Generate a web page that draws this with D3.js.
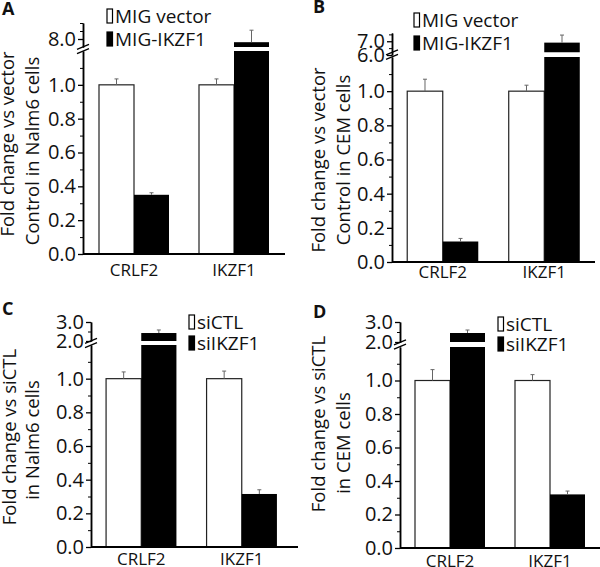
<!DOCTYPE html>
<html>
<head>
<meta charset="utf-8">
<script src="https://cdn.jsdelivr.net/npm/d3@7"></script>
<style>
  body { margin: 0; background: #fff; }
  svg { display: block; }
  text { font-family: "Open Sans", sans-serif; fill: #111; }
</style>
</head>
<body>
<svg id="chart"></svg>
<script>
// data
const categories = ["CRLF2", "IKZF1"];
const legendMIG = ["MIG vector", "MIG-IKZF1"];
const legendSi = ["siCTL", "siIKZF1"];

const vectorNalm6 = [1.0, 1.0];
const vectorNalm6Err = [0.035, 0.035];
const ikzf1Nalm6 = [0.35, 7.8];
const ikzf1Nalm6Err = [0.012, 0.75];

const vectorCEM = [1.0, 1.0];
const vectorCEMErr = [0.07, 0.035];
const ikzf1CEM = [0.12, 6.9];
const ikzf1CEMErr = [0.018, 0.55];

const siCTLNalm6 = [1.0, 1.0];
const siCTLNalm6Err = [0.04, 0.045];
const siIKZF1Nalm6 = [2.42, 0.315];
const siIKZF1Nalm6Err = [0.16, 0.025];

const siCTLCEM = [1.0, 1.0];
const siCTLCEMErr = [0.065, 0.035];
const siIKZF1CEM = [2.45, 0.32];
const siIKZF1CEMErr = [0.15, 0.02];

const lowerMajor = [0, 0.2, 0.4, 0.6, 0.8, 1.0];
const lowerMinor = [0.1, 0.3, 0.5, 0.7, 0.9, 1.1];

// panel layout
const panels = [
  {letter: "A", lx: 2, ly: 15,
   series: [vectorNalm6, ikzf1Nalm6], errs: [vectorNalm6Err, ikzf1Nalm6Err],
   legend: legendMIG, title: ["Fold change vs vector", "Control in Nalm6 cells"],
   upDomain: [7.5, 9.0], upBar: 7.5, upMajor: [8.0], upMinor: [8.5, 9.0],
   ax: 83, band: [84, 284], xEnd: 285, y0: 254, yLowTop: 51, yUpBot: 47, yTop: 23,
   catOff: 22, lgX: 107, lgY: [9, 32], t1: [14, 144], t2: [39, 151]},
  {letter: "B", lx: 313, ly: 13,
   series: [vectorCEM, ikzf1CEM], errs: [vectorCEMErr, ikzf1CEMErr],
   legend: legendMIG, title: ["Fold change vs vector", "Control in CEM cells"],
   upDomain: [6.0, 7.6], upBar: 6.2, upMajor: [6.0, 7.0], upMinor: [6.5, 7.5],
   ax: 392, band: [392, 595], xEnd: 595, y0: 262, yLowTop: 57, yUpBot: 55, yTop: 33,
   catOff: 16, lgX: 414, lgY: [13, 36], t1: [325, 160], t2: [350, 160]},
  {letter: "C", lx: 2, ly: 315,
   series: [siCTLNalm6, siIKZF1Nalm6], errs: [siCTLNalm6Err, siIKZF1Nalm6Err],
   legend: legendSi, title: ["Fold change vs siCTL", "in Nalm6 cells"],
   upDomain: [2.0, 3.0], upBar: 2.0, upMajor: [2.0, 3.0], upMinor: [2.5],
   ax: 91, band: [91, 292], xEnd: 298, y0: 547, yLowTop: 345, yUpBot: 341, yTop: 322,
   catOff: 18, lgX: 189, lgY: [315, 336], t1: [16, 437], t2: [39, 440]},
  {letter: "D", lx: 313, ly: 318,
   series: [siCTLCEM, siIKZF1CEM], errs: [siCTLCEMErr, siIKZF1CEMErr],
   legend: legendSi, title: ["Fold change vs siCTL", "in CEM cells"],
   upDomain: [2.0, 3.0], upBar: 2.0, upMajor: [2.0, 3.0], upMinor: [2.5],
   ax: 400, band: [400, 600], xEnd: 600, y0: 548, yLowTop: 347, yUpBot: 342, yTop: 322,
   catOff: 19, lgX: 498, lgY: [317, 337], t1: [325, 424], t2: [350, 443]}
];

const width = 600, height = 567;
const svg = d3.select("#chart").attr("width", width).attr("height", height);

function drawAxis(g, p, scale, major, minor) {
  g.append("g")
    .attr("transform", `translate(${p.ax},0)`)
    .call(d3.axisLeft(scale).tickValues(minor).tickSize(3).tickSizeOuter(0).tickFormat(""))
    .call(a => a.select(".domain").attr("stroke-width", 1.5));
  g.append("g")
    .attr("transform", `translate(${p.ax},0)`)
    .call(d3.axisLeft(scale).tickValues(major).tickSize(5).tickSizeOuter(0).tickPadding(2).tickFormat(d3.format(".1f")))
    .call(a => a.select(".domain").attr("stroke-width", 1.5))
    .call(a => a.selectAll("line").attr("stroke-width", 1.3))
    .call(a => a.selectAll("text").attr("font-size", 20).attr("font-family", "Open Sans").attr("fill", "#111"));
}

function drawPanel(p) {
  const g = svg.append("g");

  const x0 = d3.scaleBand().domain(categories).range(p.band).paddingInner(0.3).paddingOuter(0.15);
  const x1 = d3.scaleBand().domain([0, 1]).range([0, x0.bandwidth()]);
  const yLow = d3.scaleLinear().domain([0, 1.2]).range([p.y0, p.yLowTop]);
  const yUp = d3.scaleLinear().domain(p.upDomain).range([p.yUpBot, p.yTop]);

  // bars
  p.series.forEach((vals, s) => {
    vals.forEach((v, i) => {
      const x = x0(categories[i]) + x1(s);
      const w = x1.bandwidth();
      const fill = s === 0 ? "#fff" : "#000";
      const yl = yLow(Math.min(v, 1.2));
      g.append("rect")
        .attr("x", x).attr("y", yl).attr("width", w).attr("height", p.y0 - yl)
        .attr("fill", fill).attr("stroke", "#222").attr("stroke-width", s === 0 ? 1.2 : 0);
      let top = yl, errTop;
      if (v > p.upBar) {
        top = yUp(v);
        g.append("rect")
          .attr("x", x).attr("y", top).attr("width", w).attr("height", yUp(p.upBar) - top)
          .attr("fill", fill);
        errTop = yUp(v + p.errs[s][i]);
      } else {
        errTop = yLow(v + p.errs[s][i]);
      }
      const cx = x + w / 2;
      g.append("line").attr("x1", cx).attr("x2", cx).attr("y1", top).attr("y2", errTop)
        .attr("stroke", "#666").attr("stroke-width", 1);
      g.append("line").attr("x1", cx - 2).attr("x2", cx + 2).attr("y1", errTop).attr("y2", errTop)
        .attr("stroke", "#666").attr("stroke-width", 1);
    });
  });

  // x baseline
  g.append("line").attr("x1", p.ax).attr("x2", p.xEnd).attr("y1", p.y0).attr("y2", p.y0)
    .attr("stroke", "#000").attr("stroke-width", 1.8);

  // y axes (lower and upper segments)
  drawAxis(g, p, yLow, lowerMajor, lowerMinor);
  drawAxis(g, p, yUp, p.upMajor, p.upMinor);

  // break marks
  const mid = (yUp(p.upBar) + p.yLowTop) / 2;
  [-2.2, 2.2].forEach(d => {
    g.append("line")
      .attr("x1", p.ax - 6).attr("y1", mid + d + 2.5)
      .attr("x2", p.ax + 6).attr("y2", mid + d - 2.5)
      .attr("stroke", "#000").attr("stroke-width", 1.3);
  });

  // category labels
  g.selectAll(".cat").data(categories).join("text")
    .attr("x", d => x0(d) + x0.bandwidth() / 2)
    .attr("y", p.y0 + p.catOff)
    .attr("text-anchor", "middle")
    .attr("font-size", 17)
    .text(d => d);

  // y title
  [p.t1, p.t2].forEach((t, k) => {
    g.append("text")
      .attr("transform", `translate(${t[0]},${t[1]}) rotate(-90)`)
      .attr("text-anchor", "middle")
      .attr("font-size", 18.5)
      .text(p.title[k]);
  });

  // legend
  p.legend.forEach((name, k) => {
    g.append("rect")
      .attr("x", p.lgX).attr("y", p.lgY[k]).attr("width", 5.5).attr("height", 14)
      .attr("fill", k === 0 ? "#fff" : "#000").attr("stroke", "#000").attr("stroke-width", 1.2);
    g.append("text")
      .attr("x", p.lgX + 8).attr("y", p.lgY[k] + 14)
      .attr("font-size", 19)
      .text(name);
  });

  // panel letter
  g.append("text")
    .attr("x", p.lx).attr("y", p.ly)
    .attr("font-family", "Liberation Sans, Arial, sans-serif")
    .attr("font-weight", "bold")
    .attr("font-size", 18)
    .text(p.letter);
}

panels.forEach(drawPanel);
</script>
</body>
</html>
